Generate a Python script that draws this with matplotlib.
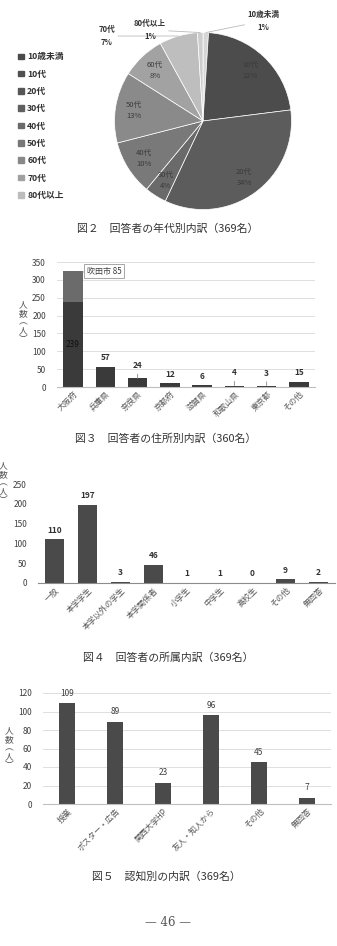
import numpy as np
import matplotlib.pyplot as plt
from matplotlib.patches import Patch

plt.rcParams['font.family'] = ['Noto Sans CJK JP', 'DejaVu Sans']

# 図2 年代別
age_labels = ['10歳未満', '10代', '20代', '30代', '40代', '50代', '60代', '70代', '80代以上']
age_pct = [1, 22, 34, 4, 10, 13, 8, 7, 1]

# 図3 住所別
pref_labels = ['大阪府', '兵庫県', '奈良県', '京都府', '滋賀県', '和歌山県', '東京都', 'その他']
pref_values = [239, 57, 24, 12, 6, 4, 3, 15]
suita_value = 85

# 図4 所属
aff_labels = ['一般', '本学学生', '本学以外の学生', '本学関係者', '小学生', '中学生', '高校生', 'その他', '無回答']
aff_values = [110, 197, 3, 46, 1, 1, 0, 9, 2]

# 図5 認知別
src_labels = ['授業', 'ポスター・広告', '関西大学HP', '友人・知人から', 'その他', '無回答']
src_values = [109, 89, 23, 96, 45, 7]

W, H = 337, 946
fig = plt.figure(figsize=(W / 100, H / 100), dpi=100)


def px_axes(x0, y0, x1, y1):
    # ピクセル座標で軸を作る
    return fig.add_axes([x0 / W, 1 - y1 / H, (x1 - x0) / W, (y1 - y0) / H])


def px_text(x, y, s, **kw):
    fig.text(x / W, 1 - y / H, s, **kw)


YLAB = '人\n数\n︵\n人\n︶'

# ---- 図2 円グラフ ----
pie_colors = ['#d6d6d6', '#4c4c4c', '#5c5c5c', '#6a6a6a', '#797979',
              '#8a8a8a', '#a2a2a2', '#bebebe', '#cdcdcd']
legend_colors = ['#4a4a4a', '#505050', '#575757', '#606060', '#6a6a6a',
                 '#777777', '#888888', '#a0a0a0', '#bdbdbd']
ax = px_axes(114.5, 32.5, 291.5, 209.5)
wedges, _ = ax.pie(age_pct, colors=pie_colors, startangle=90, counterclock=False,
                   wedgeprops=dict(edgecolor='white', linewidth=0.5))
ax.set_xlim(-1, 1)
ax.set_ylim(-1, 1)
for i, w in enumerate(wedges):
    ang = np.deg2rad((w.theta1 + w.theta2) / 2)
    txt = f'{age_labels[i]}\n{age_pct[i]}%'
    if i in (1, 2, 3, 4, 5, 6):
        ax.text(0.79 * np.cos(ang), 0.79 * np.sin(ang), txt, ha='center', va='center',
                fontsize=5.5, color='#3a3a3a', linespacing=1.5)
    else:
        pos = {0: (0.68, 1.13), 7: (-1.085, 0.96), 8: (-0.6, 1.03)}[i]
        ax.annotate(txt, xy=(np.cos(ang), np.sin(ang)), xytext=pos, ha='center', va='center',
                    fontsize=5.5, color='#333333', fontweight='bold', linespacing=1.5,
                    annotation_clip=False,
                    arrowprops=dict(arrowstyle='-', color='#bbbbbb', lw=0.6, shrinkA=0, shrinkB=0))

handles = [Patch(color=c) for c in legend_colors]
fig.legend(handles, age_labels, loc='upper left', bbox_to_anchor=(14 / W, 1 - 48 / H),
           frameon=False, fontsize=6.3, handlelength=0.6, handleheight=0.6,
           handletextpad=0.4, labelspacing=0.95, borderpad=0, labelcolor='#333333',
           prop=dict(weight='bold', size=6.3))

px_text(168, 229, '図２　回答者の年代別内訳（369名）', ha='center', va='center', fontsize=7.8, color='#333333')


def style_bar_axes(ax, grid=True):
    for s in ['top', 'right', 'left']:
        ax.spines[s].set_visible(False)
    ax.spines['bottom'].set_color('#bfbfbf')
    ax.spines['bottom'].set_linewidth(0.8)
    if grid:
        ax.yaxis.grid(True, color='#d9d9d9', linewidth=0.6)
        ax.set_axisbelow(True)
    ax.tick_params(axis='y', length=0, labelsize=6, labelcolor='#404040', pad=8)
    ax.tick_params(axis='x', length=0, labelsize=5.8, labelcolor='#555555', pad=2)


# ---- 図3 住所別 ----
ax = px_axes(57, 262, 315, 387)
x = np.arange(len(pref_labels))
ax.bar(x, pref_values, width=0.6, color='#3a3a3a')
ax.bar(x[:1], [suita_value], bottom=pref_values[:1], width=0.6, color='#6b6b6b')
ax.set_xlim(-0.5, len(pref_labels) - 0.5)
ax.set_ylim(0, 350)
ax.set_yticks(range(0, 351, 50))
ax.set_xticks(x)
ax.set_xticklabels(pref_labels, rotation=45, ha='right', rotation_mode='anchor')
style_bar_axes(ax)
ax.text(0, pref_values[0] / 2, str(pref_values[0]), ha='center', va='center', fontsize=6, color='#111111')
lead = {2, 5, 6}
for i, v in enumerate(pref_values[1:], start=1):
    if i in lead:
        ax.annotate(str(v), xy=(i, v), xytext=(0, 6), textcoords='offset points', ha='center', va='bottom',
                    fontsize=6, color='#333333', fontweight='bold',
                    arrowprops=dict(arrowstyle='-', color='#888888', lw=0.6, shrinkA=1, shrinkB=0))
    else:
        ax.annotate(str(v), xy=(i, v), xytext=(0, 3), textcoords='offset points', ha='center', va='bottom',
                    fontsize=6, color='#333333', fontweight='bold')
top = pref_values[0] + suita_value
ax.annotate(f'吹田市 {suita_value}', xy=(0.3, top - 2), xytext=(0.96, top), ha='center', va='center',
            fontsize=5.8, color='#404040', annotation_clip=False,
            bbox=dict(boxstyle='square,pad=0.3', fc='white', ec='#a6a6a6', lw=0.7),
            arrowprops=dict(arrowstyle='-', color='#a6a6a6', lw=0.7, shrinkA=0, shrinkB=0))
px_text(23, 322, YLAB, ha='center', va='center', fontsize=6.3, color='#555555', linespacing=0.95)

px_text(166, 439, '図３　回答者の住所別内訳（360名）', ha='center', va='center', fontsize=7.8, color='#333333')

# ---- 図4 所属 ----
ax = px_axes(38, 484, 335, 583)
x = np.arange(len(aff_labels))
ax.bar(x, aff_values, width=0.57, color='#4a4a4a')
ax.set_xlim(-0.5, len(aff_labels) - 0.5)
ax.set_ylim(0, 250)
ax.set_yticks(range(0, 251, 50))
ax.set_xticks(x)
ax.set_xticklabels(aff_labels, rotation=45, ha='right', rotation_mode='anchor')
style_bar_axes(ax, grid=False)
ax.spines['bottom'].set_color('#8c8c8c')
for i, v in enumerate(aff_values):
    ax.annotate(str(v), xy=(i, v), xytext=(0, 3.5), textcoords='offset points', ha='center', va='bottom',
                fontsize=6, color='#333333', fontweight='bold')
px_text(3, 483, YLAB, ha='center', va='center', fontsize=6.3, color='#555555', linespacing=0.95)

px_text(168, 658, '図４　回答者の所属内訳（369名）', ha='center', va='center', fontsize=7.8, color='#333333')

# ---- 図5 認知別 ----
ax = px_axes(43, 693, 331, 804)
x = np.arange(len(src_labels))
ax.bar(x, src_values, width=0.33, color='#4a4a4a')
ax.set_xlim(-0.5, len(src_labels) - 0.5)
ax.set_ylim(0, 120)
ax.set_yticks(range(0, 121, 20))
ax.set_xticks(x)
ax.set_xticklabels(src_labels, rotation=45, ha='right', rotation_mode='anchor')
style_bar_axes(ax)
for i, v in enumerate(src_values):
    ax.annotate(str(v), xy=(i, v), xytext=(0, 4), textcoords='offset points', ha='center', va='bottom',
                fontsize=6, color='#404040')
px_text(9, 748, YLAB, ha='center', va='center', fontsize=6.3, color='#555555', linespacing=0.95)

px_text(166, 876, '図５　認知別の内訳（369名）', ha='center', va='center', fontsize=7.8, color='#333333')

px_text(168, 922, '— 46 —', ha='center', va='center', fontsize=8.5, color='#555555', family='DejaVu Serif')

fig.savefig('out.png', dpi=100)
